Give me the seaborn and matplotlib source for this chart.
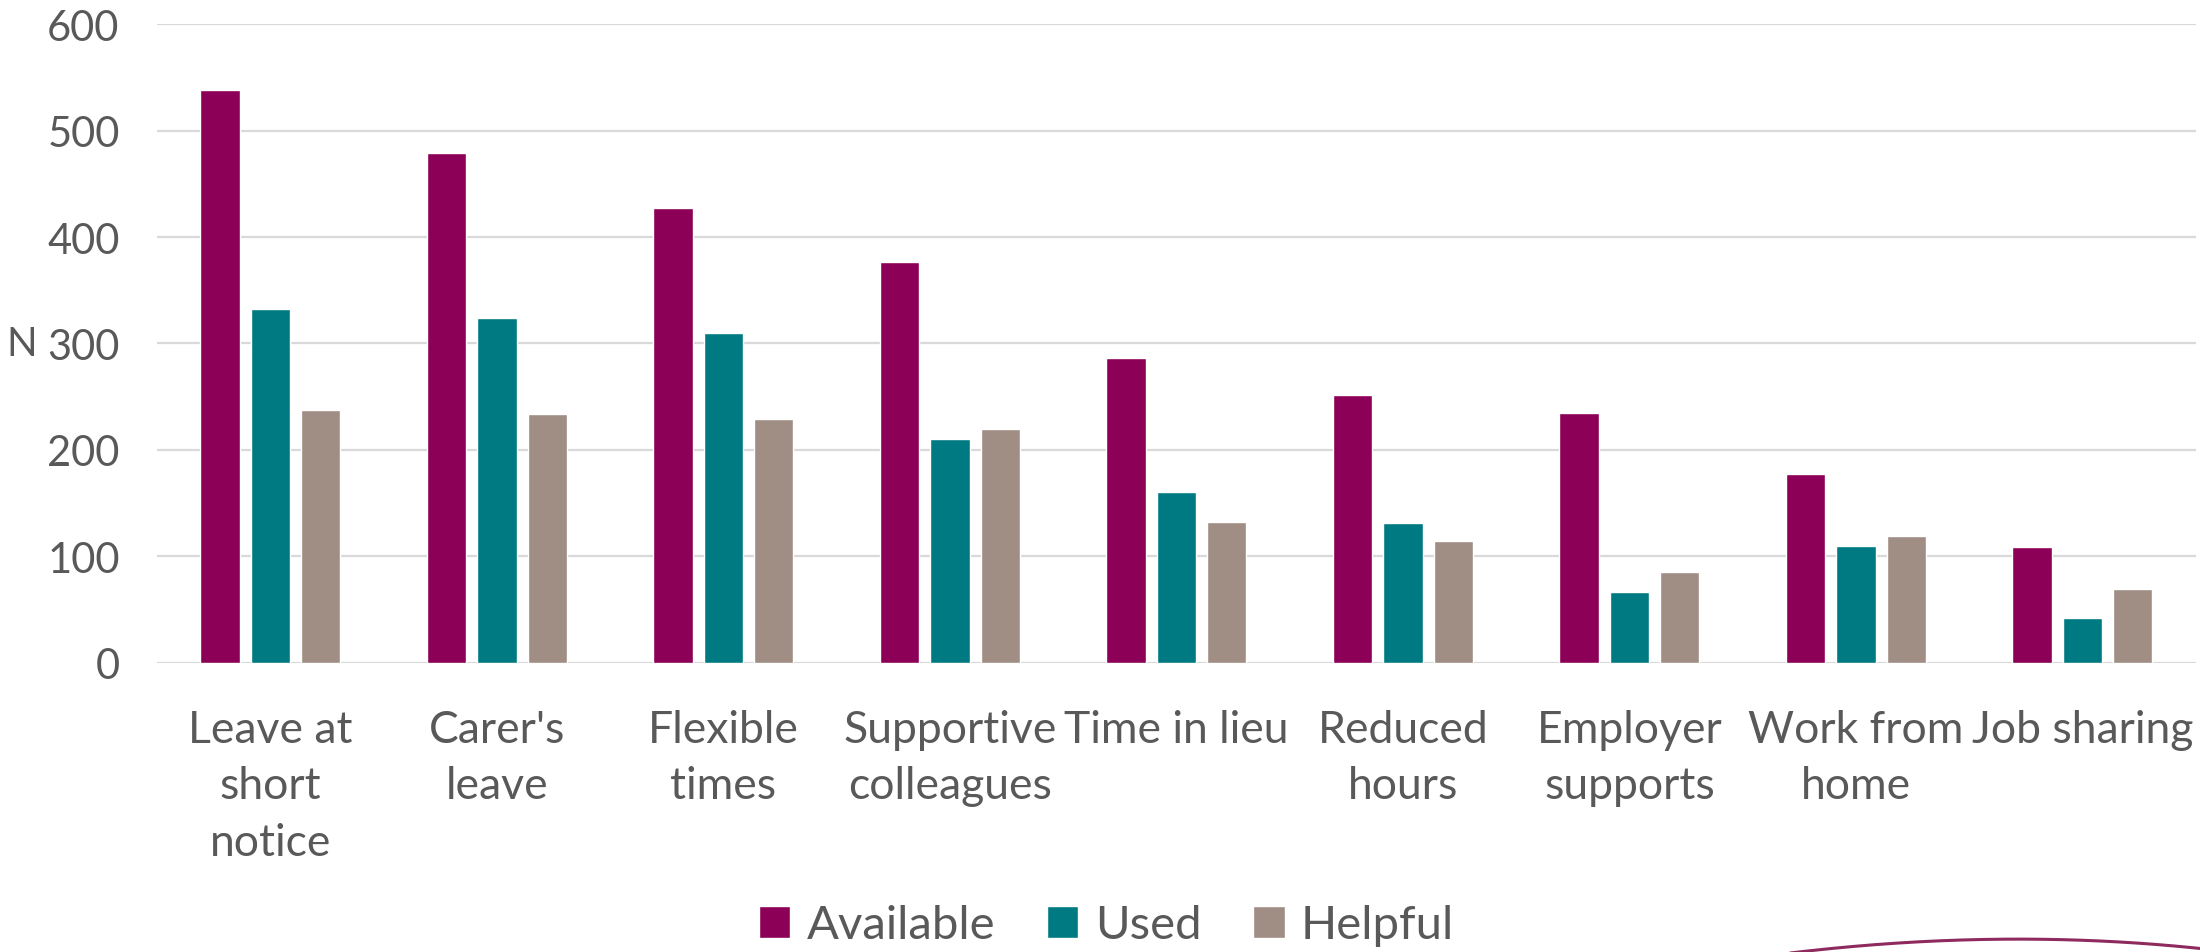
import numpy as np
import pandas as pd
import matplotlib
matplotlib.use("Agg")
import matplotlib.pyplot as plt
from matplotlib.lines import Line2D
import seaborn as sns

# Work-life options and how many respondents reported each
options = ["Leave at\nshort\nnotice", "Carer's\nleave", "Flexible\ntimes",
           "Supportive\ncolleagues", "Time in lieu", "Reduced\nhours",
           "Employer\nsupports", "Work from\nhome", "Job sharing"]
available = [538, 479, 427, 377, 286, 252, 235, 177, 109]
used = [332, 324, 310, 210, 160, 131, 66, 110, 42]
helpful = [237, 234, 229, 220, 132, 114, 85, 119, 69]
measures = ["Available", "Used", "Helpful"]
yticks = [0, 100, 200, 300, 400, 500, 600]

colors = {"Available": "#8C0058", "Used": "#007A82", "Helpful": "#A08E84"}
text_color = "#595959"
grid_color = "#D9D9D9"

df = pd.DataFrame({
    "option": options * 3,
    "N": available + used + helpful,
    "measure": np.repeat(measures, len(options)),
})

sns.set_theme(style="white")
plt.rcParams["font.family"] = ["Lato", "DejaVu Sans"]
plt.rcParams["text.color"] = text_color

fig = plt.figure(figsize=(22, 9.53), dpi=100)
ax = fig.add_axes([0.0714, 0.3036, 0.9266, 0.6699])

sns.barplot(data=df, x="option", y="N", hue="measure", order=options,
            hue_order=measures, palette=colors, saturation=1,
            width=0.668, gap=0.22, ax=ax)

ax.set_ylim(0, 600)
ax.set_yticks(yticks)
ax.set_axisbelow(True)
ax.yaxis.grid(True, color=grid_color, linewidth=1.6)
ax.xaxis.grid(False)
for s in ax.spines.values():
    s.set_visible(False)

ax.tick_params(axis="y", length=0, pad=27, labelsize=30, labelcolor=text_color)
ax.tick_params(axis="x", length=0, pad=33, labelsize=32, labelcolor=text_color)
for lab in ax.get_xticklabels():
    lab.set_linespacing(1.48)
    lab.set_multialignment("center")

ax.set_xlabel("")
ax.set_ylabel("N", rotation=0, fontsize=29, color=text_color, va="center", ha="center")
ax.yaxis.set_label_coords(-0.0665, 0.5)

handles, labels = ax.get_legend_handles_labels()
ax.get_legend().remove()
fig.legend(handles, labels, loc="center", bbox_to_anchor=(0.503, 0.028), ncol=3,
           frameon=False, fontsize=34, handlelength=0.66, handleheight=0.66,
           handletextpad=0.35, columnspacing=1.1, labelcolor=text_color)

# Decorative swoosh along the bottom-right edge
W, H = 2200, 953
t = np.linspace(0, 1, 200)
p0, p1, p2 = np.array([1782, 955]), np.array([2000, 928]), np.array([2205, 950])
curve = ((1 - t)[:, None] ** 2) * p0 + (2 * (1 - t) * t)[:, None] * p1 + (t[:, None] ** 2) * p2
fig.add_artist(Line2D(curve[:, 0] / W, 1 - curve[:, 1] / H, transform=fig.transFigure,
                      color="#8E2A5E", linewidth=2.2, solid_capstyle="round"))

fig.savefig("out.png", dpi=100)
